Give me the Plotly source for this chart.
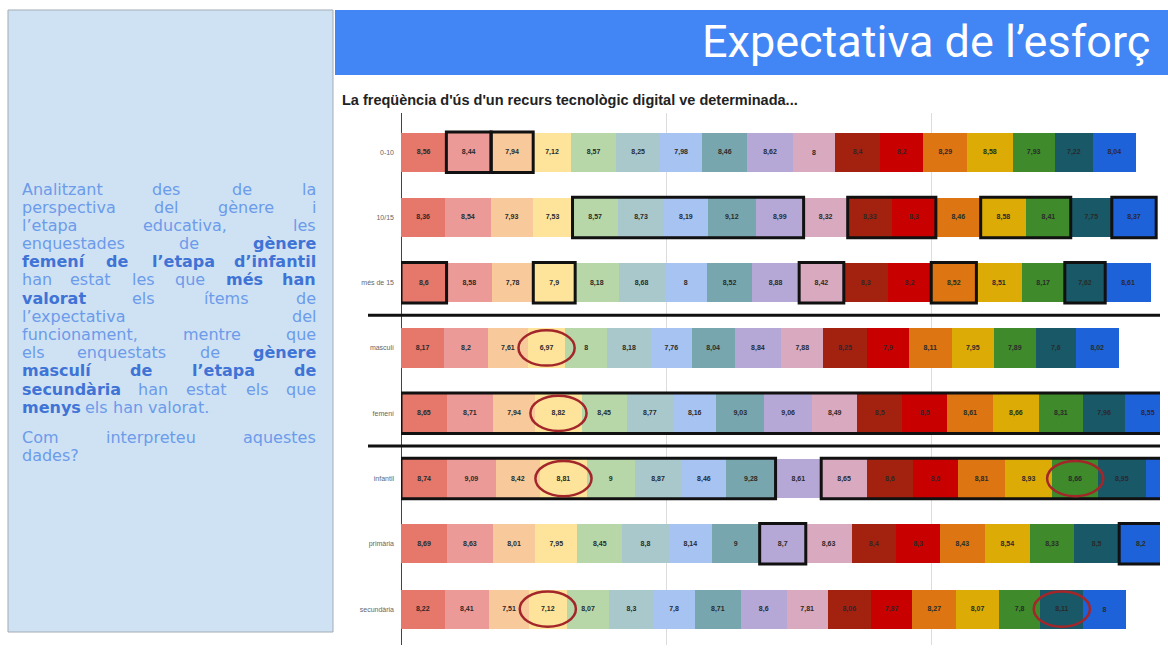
import plotly.graph_objects as go

W, H = 1168, 661

# ---- data -------------------------------------------------------------
categories = ["0-10", "10/15", "més de 15", "masculí", "femení",
              "infantil", "primària", "secundària"]

row_0_10 = [8.56, 8.44, 7.94, 7.12, 8.57, 8.25, 7.98, 8.46, 8.62, 8.0,
            8.4, 8.2, 8.29, 8.58, 7.93, 7.22, 8.04]
row_10_15 = [8.36, 8.54, 7.93, 7.53, 8.57, 8.73, 8.19, 9.12, 8.99, 8.32,
             8.33, 8.30, 8.46, 8.58, 8.41, 7.75, 8.37]
row_mes_15 = [8.6, 8.58, 7.78, 7.9, 8.18, 8.68, 8.0, 8.52, 8.88, 8.42,
              8.3, 8.2, 8.52, 8.51, 8.17, 7.62, 8.61]
row_masculi = [8.17, 8.2, 7.61, 6.97, 8.0, 8.18, 7.76, 8.04, 8.84, 7.88,
               8.25, 7.9, 8.11, 7.95, 7.89, 7.6, 8.02]
row_femeni = [8.65, 8.71, 7.94, 8.82, 8.45, 8.77, 8.16, 9.03, 9.06, 8.49,
              8.5, 8.5, 8.61, 8.66, 8.31, 7.96, 8.55]
row_infantil = [8.74, 9.09, 8.42, 8.81, 9.0, 8.87, 8.46, 9.28, 8.61, 8.65,
                8.6, 8.6, 8.81, 8.93, 8.66, 8.95, 8.9]
row_primaria = [8.69, 8.63, 8.01, 7.95, 8.45, 8.8, 8.14, 9.0, 8.7, 8.63,
                8.4, 8.3, 8.43, 8.54, 8.33, 8.5, 8.2]
row_secundaria = [8.22, 8.41, 7.51, 7.12, 8.07, 8.3, 7.8, 8.71, 8.6, 7.81,
                  8.06, 7.87, 8.27, 8.07, 7.8, 8.11, 8.0]

rows = [row_0_10, row_10_15, row_mes_15, row_masculi, row_femeni,
        row_infantil, row_primaria, row_secundaria]

item_colors = ["#e6776b", "#ec9a97", "#f8c99b", "#fde49a", "#b7d7a8",
               "#a9c8cc", "#a6c3f2", "#78a6ae", "#b6a8d6", "#d9a9bf",
               "#a3210f", "#c80000", "#dd7512", "#dcab05", "#3f8a2a",
               "#195867", "#1d62d8"]

# highlighted groups: (row, first item, last item)
boxes = [(0, 1, 1), (0, 2, 2),
         (1, 4, 8), (1, 10, 11), (1, 13, 14), (1, 16, 16),
         (2, 0, 0), (2, 3, 3), (2, 9, 9), (2, 12, 12), (2, 15, 15),
         (4, 0, 16),
         (5, 0, 7), (5, 9, 16),
         (6, 8, 8), (6, 16, 16)]
# circled values: (row, item)
circles = [(3, 3), (4, 3), (5, 3), (7, 3), (5, 14), (7, 15)]

X_MAX = 143.2


def px(x):
    return x / W


def py(y):
    return 1 - y / H


def label(v):
    return f"{v:g}".replace(".", ",")


cums = []
for r in rows:
    c = [0.0]
    for v in r:
        c.append(c[-1] + v)
    cums.append(c)

fig = go.Figure()

n_items = len(item_colors)
for j in range(n_items):
    xs = [r[j] for r in rows]
    # segments whose middle falls past the visible range carry no label
    texts = [label(v) if (cums[i][j] + v / 2) < X_MAX - 2 else ""
             for i, v in enumerate(xs)]
    fig.add_trace(go.Bar(
        orientation="h",
        y=list(range(len(categories))),
        x=xs,
        width=0.6,
        name=f"Ítem {j + 1}",
        marker=dict(color=item_colors[j], line=dict(width=0)),
        text=texts,
        texttemplate="<b>%{text}</b>",
        textposition="inside",
        insidetextanchor="middle",
        textangle=0,
        textfont=dict(size=7, color="#2a2a2a", family="Liberation Sans"),
        hoverinfo="skip",
        showlegend=False,
    ))

shapes = []

# slide background pieces
shapes.append(dict(type="rect", xref="paper", yref="paper", layer="below",
                   x0=px(8), x1=px(333), y0=py(632), y1=py(10),
                   fillcolor="#cfe2f3", line=dict(color="#a3abb3", width=1)))
shapes.append(dict(type="rect", xref="paper", yref="paper", layer="below",
                   x0=px(335), x1=px(1168), y0=py(75), y1=py(10),
                   fillcolor="#4285f4", line=dict(width=0)))

for (r, s0, s1) in boxes:
    shapes.append(dict(type="rect", xref="x", yref="y",
                       x0=cums[r][s0], x1=cums[r][s1 + 1],
                       y0=r - 0.31, y1=r + 0.31,
                       line=dict(color="#111111", width=3)))

for (r, s) in circles:
    c = (cums[r][s] + cums[r][s + 1]) / 2
    shapes.append(dict(type="circle", xref="x", yref="y",
                       x0=c - 5.3, x1=c + 5.3, y0=r - 0.27, y1=r + 0.27,
                       line=dict(color="#a3262a", width=2.5)))

for ysep in (2.5, 4.5):
    shapes.append(dict(type="line", xref="paper", yref="y",
                       x0=px(368), x1=px(1160), y0=ysep, y1=ysep,
                       line=dict(color="#111111", width=3)))

annotations = []
annotations.append(dict(xref="paper", yref="paper", x=px(1152), y=py(42),
                        xanchor="right", yanchor="middle", showarrow=False,
                        text="Expectativa de l’esforç",
                        font=dict(family="Roboto", size=45, color="white")))
annotations.append(dict(xref="paper", yref="paper", x=px(340), y=py(100),
                        xanchor="left", yanchor="middle", showarrow=False,
                        text="<b>La freqüència d'ús d'un recurs tecnològic digital ve determinada...</b>",
                        font=dict(family="Liberation Sans", size=14.5, color="#222222")))

# ---- justified paragraph in the side panel ---------------------------
NORMAL = "#6c9bea"
BOLD = "#3f73d6"
FONT = "DejaVu Sans"
FS = 16
LEFT, RIGHT = 20, 318

# approximate advance widths (em) of the body font
CW = {"a": .613, "b": .635, "c": .55, "d": .635, "e": .615, "f": .352,
      "g": .635, "h": .634, "i": .278, "í": .278, "j": .278, "k": .579,
      "l": .278, "m": .974, "n": .634, "o": .612, "p": .635, "q": .635,
      "r": .411, "s": .521, "t": .392, "u": .634, "v": .592, "x": .592,
      "y": .592, "z": .525, "'": .275, "’": .318, ",": .318, ".": .318,
      "?": .531, "A": .684, "C": .698, "è": .615, "à": .613, "é": .615,
      "ò": .612}


def width(word, bold):
    w = sum(CW.get(ch, .6) for ch in word) * FS
    return w * (1.12 if bold else 1.0)


paragraph = [
    ([("Analitzant", 0), ("des", 0), ("de", 0), ("la", 0)], True),
    ([("perspectiva", 0), ("del", 0), ("gènere", 0), ("i", 0)], True),
    ([("l’etapa", 0), ("educativa,", 0), ("les", 0)], True),
    ([("enquestades", 0), ("de", 0), ("gènere", 1)], True),
    ([("femení", 1), ("de", 1), ("l’etapa", 1), ("d’infantil", 1)], True),
    ([("han", 0), ("estat", 0), ("les", 0), ("que", 0), ("més", 1), ("han", 1)], True),
    ([("valorat", 1), ("els", 0), ("ítems", 0), ("de", 0)], True),
    ([("l’expectativa", 0), ("del", 0)], True),
    ([("funcionament,", 0), ("mentre", 0), ("que", 0)], True),
    ([("els", 0), ("enquestats", 0), ("de", 0), ("gènere", 1)], True),
    ([("masculí", 1), ("de", 1), ("l’etapa", 1), ("de", 1)], True),
    ([("secundària", 1), ("han", 0), ("estat", 0), ("els", 0), ("que", 0)], True),
    ([("menys", 1), ("els", 0), ("han", 0), ("valorat.", 0)], False),
]
second = [
    ([("Com", 0), ("interpreteu", 0), ("aquestes", 0)], True),
    ([("dades?", 0)], False),
]

LINE_H = 18.2


def place_lines(lines, y_start):
    y = y_start
    for words, justify in lines:
        widths = [width(w, b) for w, b in words]
        if justify and len(words) > 1:
            gap = (RIGHT - LEFT - sum(widths)) / (len(words) - 1)
        else:
            gap = FS * 0.32
        xcur = LEFT
        for k, ((w, b), wd) in enumerate(zip(words, widths)):
            if justify and len(words) > 1 and k == len(words) - 1:
                xa, xv = "right", RIGHT
            elif k == 0:
                xa, xv = "left", LEFT
            else:
                xa, xv = "center", xcur + wd / 2
            txt = f"<b>{w}</b>" if b else w
            annotations.append(dict(
                xref="paper", yref="paper", x=px(xv), y=py(y),
                xanchor=xa, yanchor="middle", showarrow=False, text=txt,
                font=dict(family=FONT, size=FS, color=BOLD if b else NORMAL)))
            xcur += wd + gap
        y += LINE_H


place_lines(paragraph, 189)
place_lines(second, 437)

fig.update_layout(
    width=W, height=H,
    margin=dict(l=0, r=0, t=0, b=0),
    paper_bgcolor="white",
    plot_bgcolor="white",
    barmode="stack",
    bargap=0.4,
    showlegend=False,
    shapes=shapes,
    annotations=annotations,
    xaxis=dict(domain=[px(401), px(1160)], range=[0, X_MAX],
               showticklabels=False, ticks="",
               showgrid=True, gridcolor="#dcdcdc", gridwidth=1, dtick=50,
               zeroline=True, zerolinecolor="#444444", zerolinewidth=1,
               fixedrange=True),
    yaxis=dict(domain=[py(645), py(113)], range=[7.55, -0.6],
               tickmode="array", tickvals=list(range(len(categories))),
               ticktext=categories, showgrid=False, zeroline=False,
               tickfont=dict(size=7, color="#666666", family="Liberation Sans"),
               ticks="", ticklabelstandoff=6, fixedrange=True),
)

fig.write_html("out.html")
